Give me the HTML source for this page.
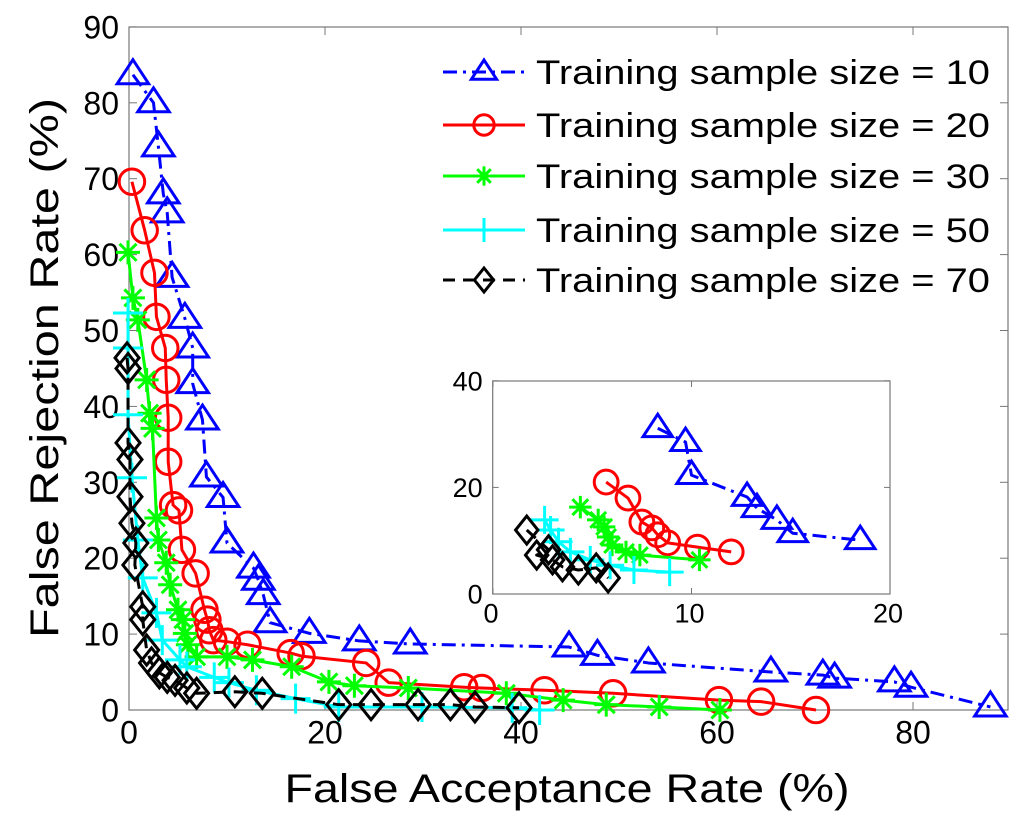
<!DOCTYPE html>
<html><head><meta charset="utf-8"><style>
html,body{margin:0;padding:0;background:#fff;}
svg{display:block;font-family:"Liberation Sans",Arial,sans-serif;}
</style></head><body>
<svg id="chart" width="1024" height="820" viewBox="0 0 1024 820" xmlns="http://www.w3.org/2000/svg">
<rect width="1024" height="820" fill="#fff"/>
<g id="main"></g>
<g id="inset"></g>
<g id="legend"></g>
<text x="567" y="802" font-size="40" text-anchor="middle" textLength="565" lengthAdjust="spacingAndGlyphs">False Acceptance Rate (%)</text>
<text transform="translate(58,368) rotate(-90)" font-size="40" text-anchor="middle" textLength="540" lengthAdjust="spacingAndGlyphs">False Rejection Rate (%)</text>
</svg>
<script>
// ---- main chart data ----
const seriesNames = ["Training sample size = 10","Training sample size = 20","Training sample size = 30","Training sample size = 50","Training sample size = 70"];
const xTicks = [0,20,40,60,80];
const yTicks = [0,10,20,30,40,50,60,70,80,90];
const far10 = [0.4,2.5,3.0,3.5,3.9,4.4,5.7,6.5,6.5,7.5,7.9,9.6,10.0,12.7,13.2,13.7,14.4,18.4,23.5,28.7,44.9,47.8,53.0,65.5,70.8,72.0,78.1,79.8,87.9];
const frr10 = [83.7,80,74.2,68,65.5,57,51.6,47.7,43,38.2,30.7,28,22,18.7,17.1,15.2,11.5,10.1,9.1,8.7,8.3,7.2,6.2,5.0,4.6,4.2,3.7,3.0,0.4];
const far20 = [0.3,1.6,2.6,2.8,3.7,3.8,4.0,4.0,4.5,5.1,5.4,6.8,7.7,8.0,8.2,8.6,10.0,12.1,16.5,17.6,24.2,26.5,34.2,36.0,42.4,49.4,60.2,64.5,70.1];
const frr20 = [69.6,63.2,57.6,51.8,47.7,43.5,38.5,32.7,27,26.3,21.1,18,13.2,11.9,10.5,9.2,9.0,8.6,7.5,7.1,6.2,3.6,3.0,2.9,2.6,2.2,1.3,1.1,0];
const far30 = [-0.1,0.4,0.9,1.8,2.1,2.4,2.8,3.0,3.8,4.2,5.0,5.5,5.7,6.0,6.9,10.0,12.6,16.6,20.4,23.0,28.5,38.5,44.3,48.7,54.1,60.3];
const frr30 = [60.3,54.3,51.4,43.5,39.1,37.1,25.3,22.4,19.4,16.5,13.2,11.9,10.1,8.6,7.0,7.0,6.6,5.7,3.7,3.2,2.9,2.2,1.3,0.7,0.4,0];
const far50 = [-0.1,-0.1,-0.1,0.3,0.9,1.4,2.8,3.4,5.2,5.9,8.7,10.2,13.0,17.0,21.4,29.9,39.1,41.9];
const frr50 = [52.3,47.7,38.9,30.6,22.4,17.4,12.8,9.2,6.6,5.7,4.3,3.6,2.6,1.5,0.4,0.4,0.3,0];
const far70 = [-0.2,-0.1,-0.1,0.1,0.1,0.3,0.7,0.6,1.4,1.4,1.8,2.3,3.1,3.9,4.7,5.9,6.9,10.8,13.6,21.4,24.7,29.5,32.8,35.3,39.8];
const frr70 = [46.4,45,35.2,33,28.1,24.6,22,19.1,13.6,11.9,7.9,6.2,4.9,4.3,3.9,2.9,2.2,2.4,2.2,0.7,0.7,0.7,0.7,0.4,0.3];
// ---- inset data ----
const insetXTicks = [0,10,20];
const insetYTicks = [0,20,40];
const iFar10 = [8.3,9.7,10.0,12.8,13.3,14.3,15.1,18.5];
const iFrr10 = [31.1,28.5,22.3,18.2,16.1,13.9,11.4,10.1];
const iFar20 = [5.7,6.8,7.5,8.0,8.3,8.8,10.3,12.0];
const iFrr20 = [21,18,13.5,12.4,11.1,9.6,8.8,7.9];
const iFar30 = [4.4,5.3,5.6,5.8,6.0,6.7,7.4,10.4];
const iFrr30 = [16.3,13.9,12.6,10.7,9.2,7.9,7.3,6.4];
const iFar50 = [2.6,2.9,3.3,3.9,4.9,5.9,7.1,8.9];
const iFrr50 = [13.9,12,9.8,7.9,6.4,5.4,4.5,4.1];
const iFar70 = [1.7,2.8,2.2,3.0,3.5,4.3,5.2,5.8];
const iFrr70 = [12,8.3,7.3,6.4,5.1,4.5,4.9,3.0];

const NS="http://www.w3.org/2000/svg";
function mk(tag,attrs,parent){const e=document.createElementNS(NS,tag);for(const k in attrs)e.setAttribute(k,attrs[k]);parent.appendChild(e);return e;}

const styles=[
 {color:"#0000ff",dash:"14,6,3,6",marker:"tri",name:"series-size-10"},
 {color:"#ff0000",dash:"",marker:"circle",name:"series-size-20"},
 {color:"#00ff00",dash:"",marker:"star",name:"series-size-30"},
 {color:"#00ffff",dash:"",marker:"plus",name:"series-size-50"},
 {color:"#000000",dash:"12,8",marker:"diamond",name:"series-size-70"}];

function marker(g,type,cx,cy,s,color,sw){
 let e;
 if(type==="tri"){e=mk("polygon",{points:`${cx},${cy-s} ${cx-s*1.05},${cy+s*0.6} ${cx+s*1.05},${cy+s*0.6}`,fill:"none",stroke:color,"stroke-width":sw},g);}
 else if(type==="circle"){e=mk("circle",{cx:cx,cy:cy,r:s*0.85,fill:"none",stroke:color,"stroke-width":sw},g);}
 else if(type==="diamond"){e=mk("polygon",{points:`${cx},${cy-s} ${cx+s*0.8},${cy} ${cx},${cy+s} ${cx-s*0.8},${cy}`,fill:"none",stroke:color,"stroke-width":sw},g);}
 else if(type==="plus"){e=mk("path",{d:`M${cx-s} ${cy}H${cx+s}M${cx} ${cy-s}V${cy+s}`,stroke:color,"stroke-width":sw,fill:"none"},g);}
 else {let d="";for(let i=0;i<4;i++){const a=i*Math.PI/4;const dx=Math.cos(a)*s*0.8,dy=Math.sin(a)*s*0.8;d+=`M${cx-dx} ${cy-dy}L${cx+dx} ${cy+dy}`;}
  e=mk("path",{d:d,stroke:color,"stroke-width":sw,fill:"none"},g);}
 return e;
}

function drawAxes(g,X,Y,box,xt,yt,fs,tickLen,namePrefix,lblShift){
 mk("rect",{x:box[0],y:box[1],width:box[2]-box[0],height:box[3]-box[1],fill:"#fff",stroke:"#777","stroke-width":1.2},g);
 xt.forEach(v=>{const x=X(v);
  mk("line",{x1:x,y1:box[3],x2:x,y2:box[3]-tickLen,stroke:"#777"},g);
  mk("line",{x1:x,y1:box[1],x2:x,y2:box[1]+tickLen,stroke:"#777"},g);
  const t=mk("text",{x:x-lblShift,y:box[3]+fs*1.05,"font-size":fs,"text-anchor":"middle"},g);t.textContent=v;
  
  });
 yt.forEach(v=>{const y=Y(v);
  mk("line",{x1:box[0],y1:y,x2:box[0]+tickLen,y2:y,stroke:"#777"},g);
  mk("line",{x1:box[2],y1:y,x2:box[2]-tickLen,y2:y,stroke:"#777"},g);
  const t=mk("text",{x:box[0]-10,y:y+fs*0.36,"font-size":fs,"text-anchor":"end"},g);t.textContent=v;
  
  });
}

function drawSeries(g,X,Y,xs,ys,st,ms,lw,mw,prefix){
 const sg=mk("g",{},g);
 
 
 const pts=xs.map((x,i)=>X(x)+","+Y(ys[i])).join(" ");
 const a={points:pts,fill:"none",stroke:st.color,"stroke-width":lw,"stroke-linejoin":"round"};
 if(st.dash)a["stroke-dasharray"]=st.dash;
 mk("polyline",a,sg);
 xs.forEach((x,i)=>{const m=marker(sg,st.marker,X(x),Y(ys[i]),ms,st.color,mw);
  
  });
}

// main
const main=document.getElementById("main");
const X=v=>129+v*9.8, Y=v=>710-v*7.59;
drawAxes(main,X,Y,[129,27,1008,710],xTicks,yTicks,32,8,"main-",0);
const mainX=[far10,far20,far30,far50,far70], mainY=[frr10,frr20,frr30,frr50,frr70];
for(let i=0;i<5;i++) drawSeries(main,X,Y,mainX[i],mainY[i],styles[i],15,3,3,"main-");

// inset
const inset=document.getElementById("inset");
const IX=v=>493+v*19.85, IY=v=>594-v*5.33;
drawAxes(inset,IX,IY,[492.7,381,890,594],insetXTicks,insetYTicks,27,6,"inset-",2);
const inX=[iFar10,iFar20,iFar30,iFar50,iFar70], inY=[iFrr10,iFrr20,iFrr30,iFrr50,iFrr70];
for(let i=0;i<5;i++) drawSeries(inset,IX,IY,inX[i],inY[i],styles[i],14,3,3,"inset-");

// legend
const lg=document.getElementById("legend");
const rowsY=[72,125,176,230,280];
seriesNames.forEach((nm,i)=>{
 const st=styles[i];
 const e=mk("g",{},lg);
 
 
 const a={x1:443,y1:rowsY[i],x2:525,y2:rowsY[i],stroke:st.color,"stroke-width":3};
 if(st.dash)a["stroke-dasharray"]=st.dash;
 mk("line",a,e);
 marker(e,st.marker,484,rowsY[i],12,st.color,3);
 const t=mk("text",{x:536,y:rowsY[i]+12,"font-size":34,textLength:454,lengthAdjust:"spacingAndGlyphs"},e);
 t.textContent=nm;
});
</script>
</body></html>
